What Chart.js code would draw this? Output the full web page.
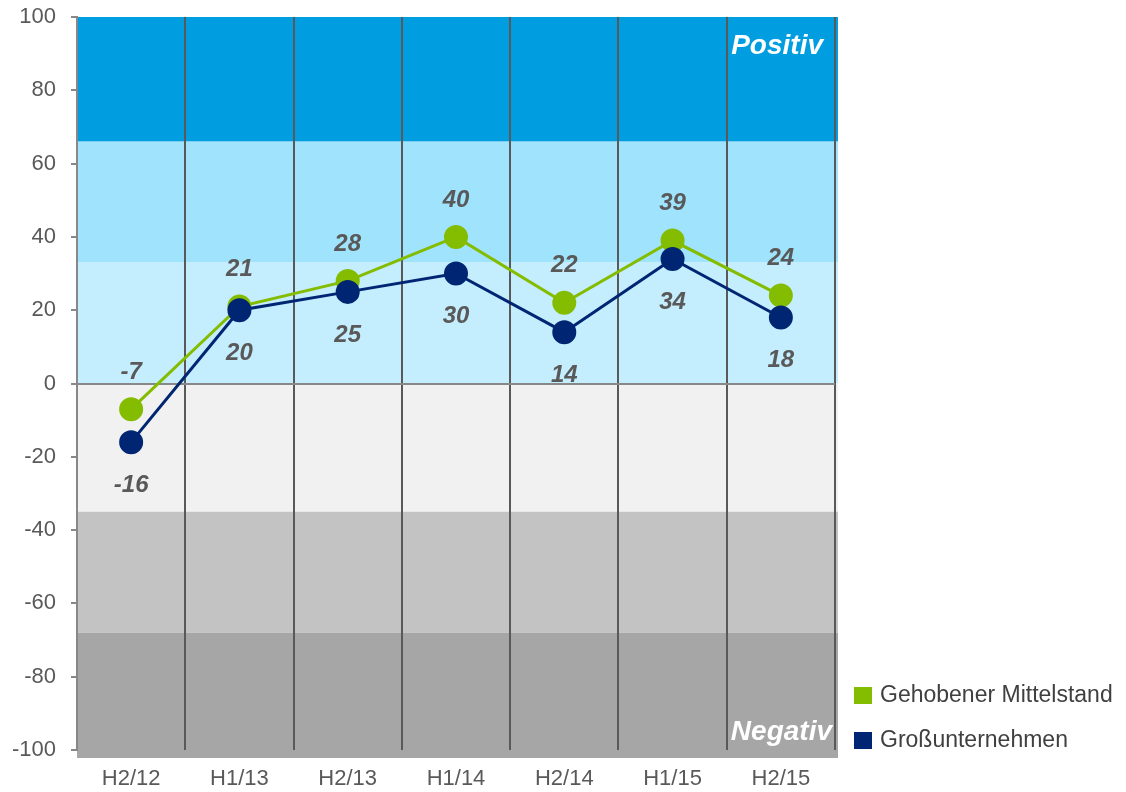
<!DOCTYPE html>
<html>
<head>
    <meta charset="utf-8">
    <title>Gehobener Mittelstand vs. Großunternehmen</title>
    <script src="https://cdn.jsdelivr.net/npm/chart.js"></script>
    <style>
        body {
            margin: 0;
            background-color: #ffffff;
            font-family: "Liberation Sans", Arial, sans-serif;
        }
        .chart-container {
            position: relative;
            width: 1126px;
            height: 792px;
        }
    </style>
</head>
<body>
    <div class="chart-container">
        <canvas id="dataChart"></canvas>
    </div>

    <script>
        const categories = ['H2/12', 'H1/13', 'H2/13', 'H1/14', 'H2/14', 'H1/15', 'H2/15'];
        const mittelstandValues = [-7, 21, 28, 40, 22, 39, 24];
        const grossValues = [-16, 20, 25, 30, 14, 34, 18];
        const seriesNames = ['Gehobener Mittelstand', 'Großunternehmen'];
        const seriesColors = ['#84bc00', '#002673'];

        // background zones (value edges, top to bottom)
        const bandEdges = [100, 66, 33, 0, -35, -68, -100];
        const bandColors = ['#009ee0', '#9fe3fd', '#c4edfd', '#f1f1f1', '#c3c3c3', '#a6a6a6'];

        const FONT = '"Liberation Sans", Arial, sans-serif';

        const bandsPlugin = {
            id: 'bands',
            beforeDraw(chart) {
                const { ctx, chartArea } = chart;
                const y = chart.scales.y;
                ctx.save();
                for (let i = 0; i < bandColors.length; i++) {
                    let top = y.getPixelForValue(bandEdges[i]);
                    let bottom = y.getPixelForValue(bandEdges[i + 1]);
                    if (i === bandColors.length - 1) bottom += 8;
                    ctx.fillStyle = bandColors[i];
                    ctx.fillRect(chartArea.left, top, chartArea.right - chartArea.left + 3, bottom - top);
                }
                ctx.restore();
            }
        };

        const labelsPlugin = {
            id: 'valueLabels',
            afterDatasetsDraw(chart) {
                const { ctx, chartArea } = chart;
                ctx.save();
                ctx.font = 'italic bold 24px ' + FONT;
                ctx.fillStyle = '#595959';
                ctx.textAlign = 'center';
                ctx.textBaseline = 'middle';
                chart.data.datasets.forEach((ds, di) => {
                    const meta = chart.getDatasetMeta(di);
                    meta.data.forEach((pt, i) => {
                        const dy = ds.labelAbove ? -37 : 43;
                        ctx.fillText(String(ds.data[i]), pt.x, pt.y + dy);
                    });
                });

                // zone captions
                ctx.fillStyle = '#ffffff';
                ctx.font = 'italic bold 28px ' + FONT;
                ctx.textAlign = 'right';
                ctx.textBaseline = 'alphabetic';
                ctx.fillText('Positiv', chartArea.right - 12, 54);
                ctx.fillText('Negativ', chartArea.right - 3, 740);

                // legend
                ctx.font = '23px ' + FONT;
                ctx.textAlign = 'left';
                ctx.textBaseline = 'middle';
                const legendY = [695, 740];
                seriesNames.forEach((name, i) => {
                    ctx.fillStyle = seriesColors[i];
                    ctx.fillRect(854, legendY[i] - 8, 18, 17);
                    ctx.fillStyle = '#404040';
                    ctx.fillText(name, 880, legendY[i] + 1);
                });
                ctx.restore();
            }
        };

        const ctx = document.getElementById('dataChart').getContext('2d');
        const dataChart = new Chart(ctx, {
            type: 'line',
            data: {
                labels: categories,
                datasets: [
                    {
                        label: seriesNames[0],
                        data: mittelstandValues,
                        borderColor: seriesColors[0],
                        backgroundColor: seriesColors[0],
                        borderWidth: 3,
                        pointRadius: 11,
                        pointBorderWidth: 2,
                        pointHoverRadius: 11,
                        tension: 0,
                        order: 1,
                        labelAbove: true
                    },
                    {
                        label: seriesNames[1],
                        data: grossValues,
                        borderColor: seriesColors[1],
                        backgroundColor: seriesColors[1],
                        borderWidth: 3,
                        pointRadius: 11,
                        pointBorderWidth: 2,
                        pointHoverRadius: 11,
                        tension: 0,
                        order: 0,
                        labelAbove: false
                    }
                ]
            },
            options: {
                responsive: true,
                maintainAspectRatio: false,
                animation: false,
                layout: {
                    padding: { top: 17, right: 291, left: 0, bottom: 0 }
                },
                plugins: {
                    legend: { display: false },
                    tooltip: { enabled: false }
                },
                scales: {
                    x: {
                        offset: true,
                        afterFit(scale) { scale.height = 42; },
                        grid: {
                            offset: true,
                            drawTicks: false,
                            lineWidth: 2,
                            color: c => c.index === 0 ? 'rgba(0,0,0,0)' : '#595959'
                        },
                        border: { display: false },
                        ticks: {
                            padding: 16,
                            color: '#595959',
                            font: { family: FONT, size: 22 }
                        }
                    },
                    y: {
                        min: -100,
                        max: 100,
                        afterFit(scale) {
                            scale.width = 77;
                            scale.paddingTop = 0;
                            scale.paddingBottom = 0;
                        },
                        ticks: {
                            stepSize: 20,
                            padding: 15,
                            color: '#595959',
                            font: { family: FONT, size: 22 }
                        },
                        grid: {
                            lineWidth: 2,
                            tickLength: 6,
                            tickColor: '#888888',
                            color: c => c.tick && c.tick.value === 0 ? '#888888' : 'rgba(0,0,0,0)'
                        },
                        border: { color: '#888888', width: 2 }
                    }
                }
            },
            plugins: [bandsPlugin, labelsPlugin]
        });
    </script>
</body>
</html>
